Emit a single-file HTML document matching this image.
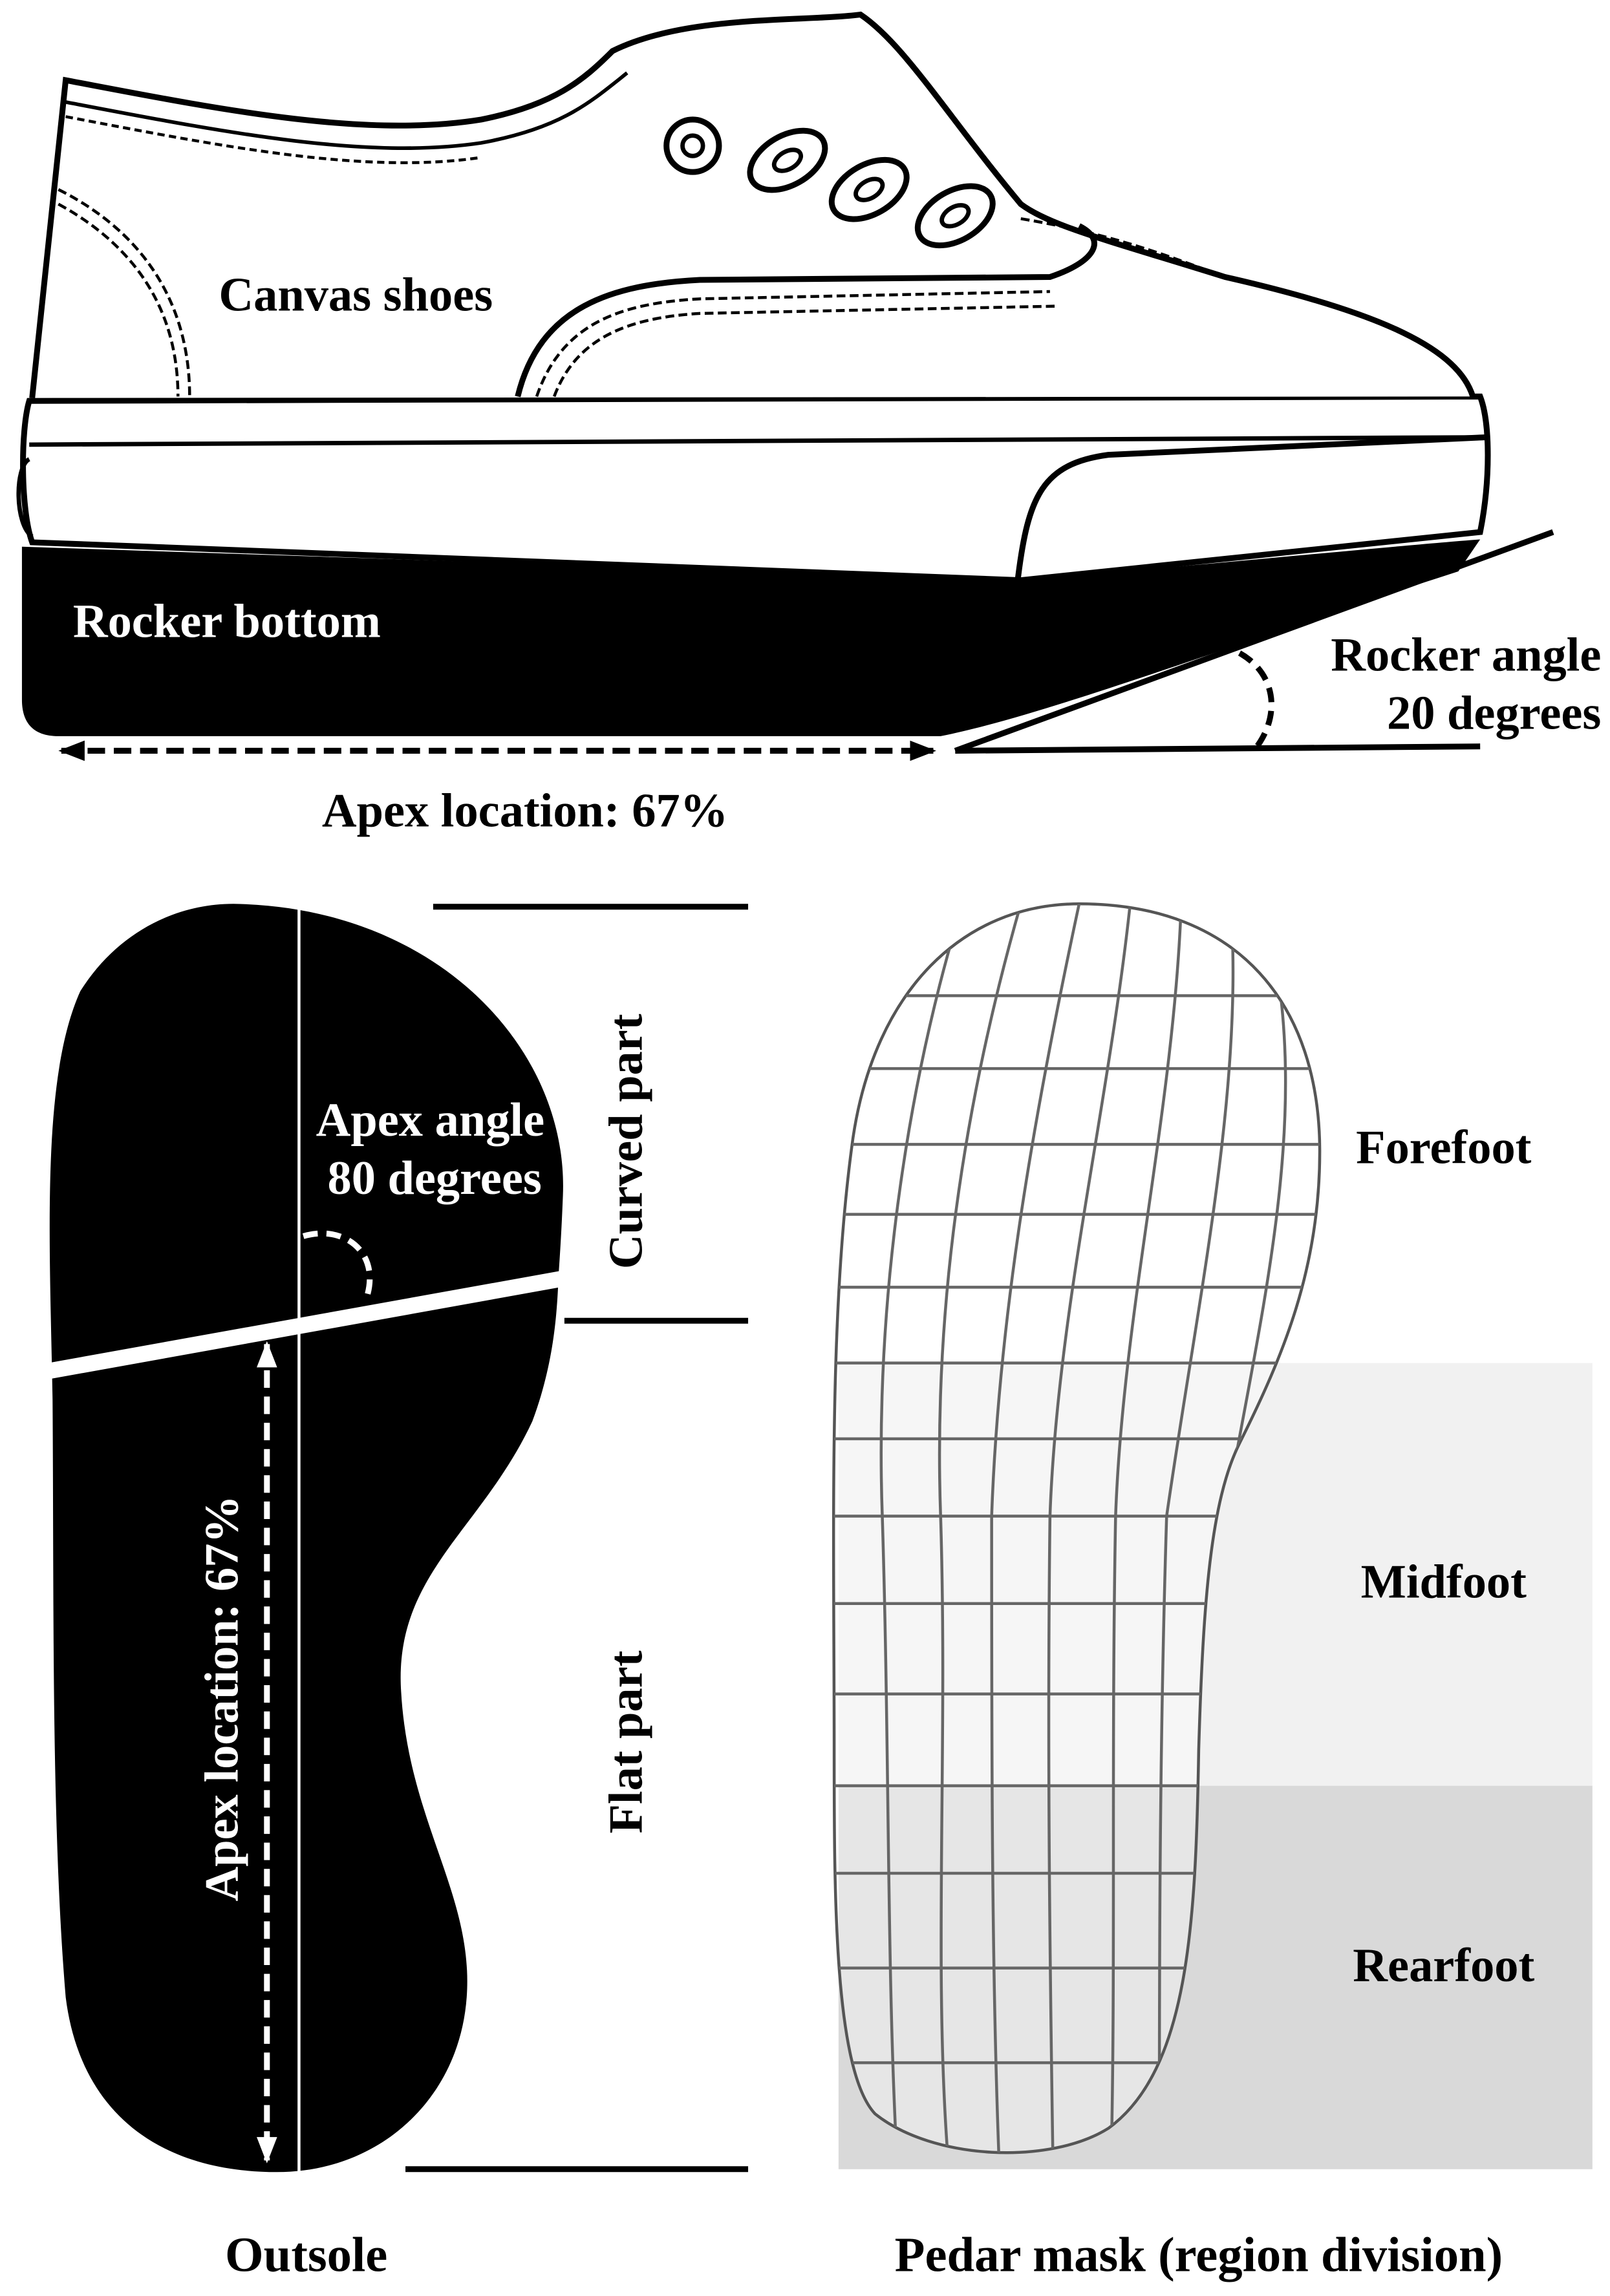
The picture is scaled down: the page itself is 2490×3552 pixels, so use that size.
<!DOCTYPE html>
<html><head><meta charset="utf-8">
<style>
html,body{margin:0;padding:0;background:#fff;}
svg{display:block;}
text{font-family:"Liberation Serif",serif;font-weight:bold;fill:#000;}
</style></head>
<body>
<svg width="2490" height="3552" viewBox="0 0 1104 1575" xmlns="http://www.w3.org/2000/svg">
<defs>
<clipPath id="pc"><path d="M740,620 C850,620 905,690 905,790 C905,870 880,930 850,990 C830,1030 825,1100 822,1200 C820,1320 815,1420 760,1460 C720,1485 640,1482 600,1450 C572,1420 572,1300 572,1200 C572,1050 568,900 585,780 C600,680 660,620 740,620 Z"/></clipPath>
<marker id="ah" markerWidth="18" markerHeight="14" refX="16" refY="7" orient="auto-start-reverse" markerUnits="userSpaceOnUse"><path d="M0,0 L18,7 L0,14 Z" fill="#000"/></marker>
<marker id="ahw" markerWidth="18" markerHeight="14" refX="16" refY="7" orient="auto-start-reverse" markerUnits="userSpaceOnUse"><path d="M0,0 L18,7 L0,14 Z" fill="#fff"/></marker>
</defs>

<path d="M15,375 L700,398 C800,390 950,375 1015,370 L1000,392 C850,440 720,490 645,505 L40,505 C22,505 15,495 15,480 Z" fill="#000"/>
<path d="M20,275 L1015,272 C1022,290 1022,330 1015,365 L700,398 L22,372 C14,350 14,295 20,275 Z" fill="#fff" stroke="#000" stroke-width="4"/>
<line x1="20" y1="305" x2="1010" y2="300" stroke="#000" stroke-width="3"/>
<path d="M20,315 C10,320 10,360 22,368" fill="none" stroke="#000" stroke-width="3"/>
<path d="M698,397 C705,340 715,318 760,312 L1018,300" fill="none" stroke="#000" stroke-width="4"/>
<path d="M22,273 L45,55 C150,75 250,95 330,82 C380,72 400,55 420,35 C470,10 550,15 590,10 C620,30 650,80 700,140 C720,155 760,165 840,190 C950,215 1000,240 1010,272" fill="#fff" stroke="#000" stroke-width="4"/>
<path d="M45,70 C150,90 250,110 330,98 C385,88 405,70 430,50" fill="none" stroke="#000" stroke-width="2.5"/>
<path d="M45,80 C150,100 250,120 330,108" fill="none" stroke="#000" stroke-width="2" stroke-dasharray="5,3"/>
<path d="M40,130 C100,160 130,210 130,272" fill="none" stroke="#000" stroke-width="2" stroke-dasharray="6,3"/>
<path d="M40,140 C95,170 122,215 122,272" fill="none" stroke="#000" stroke-width="2" stroke-dasharray="6,3"/>
<path d="M355,272 C370,210 420,195 480,192 L720,190 C750,180 760,165 740,155" fill="none" stroke="#000" stroke-width="4"/>
<path d="M368,272 C385,222 425,208 480,205 L720,200" fill="none" stroke="#000" stroke-width="2" stroke-dasharray="6,3"/>
<path d="M380,272 C395,232 430,218 480,215 L725,210" fill="none" stroke="#000" stroke-width="2" stroke-dasharray="6,3"/>
<path d="M700,150 C760,160 800,175 840,190" fill="none" stroke="#000" stroke-width="2" stroke-dasharray="6,3"/>
<circle cx="475" cy="100" r="18" fill="#fff" stroke="#000" stroke-width="4"/>
<circle cx="475" cy="100" r="7" fill="#fff" stroke="#000" stroke-width="3"/>
<ellipse cx="540" cy="110" rx="28" ry="17" transform="rotate(-30 540 110)" fill="#fff" stroke="#000" stroke-width="4"/>
<ellipse cx="540" cy="110" rx="10" ry="6" transform="rotate(-30 540 110)" fill="#fff" stroke="#000" stroke-width="3"/>
<ellipse cx="596" cy="130" rx="28" ry="17" transform="rotate(-30 596 130)" fill="#fff" stroke="#000" stroke-width="4"/>
<ellipse cx="596" cy="130" rx="10" ry="6" transform="rotate(-30 596 130)" fill="#fff" stroke="#000" stroke-width="3"/>
<ellipse cx="655" cy="148" rx="28" ry="17" transform="rotate(-30 655 148)" fill="#fff" stroke="#000" stroke-width="4"/>
<ellipse cx="655" cy="148" rx="10" ry="6" transform="rotate(-30 655 148)" fill="#fff" stroke="#000" stroke-width="3"/>

<text x="150" y="213" font-size="33">Canvas shoes</text>
<text x="50" y="437" font-size="33" style="fill:#fff">Rocker bottom</text>

<line x1="655" y1="515" x2="1065" y2="365" stroke="#000" stroke-width="4"/>
<line x1="655" y1="515" x2="1015" y2="512" stroke="#000" stroke-width="4"/>
<path d="M850,448 C875,462 878,490 862,512" fill="none" stroke="#000" stroke-width="4" stroke-dasharray="10,6"/>
<text x="1098" y="460" font-size="33" text-anchor="end">Rocker angle</text>
<text x="1098" y="500" font-size="33" text-anchor="end">20 degrees</text>

<line x1="42" y1="515" x2="640" y2="515" stroke="#000" stroke-width="4" stroke-dasharray="12,6" marker-start="url(#ah)" marker-end="url(#ah)"/>
<text x="360" y="567" font-size="33" text-anchor="middle">Apex location: 67%</text>

<path d="M160,620 C300,622 390,720 386,820 C385,845 384,860 383,875 C382,900 380,935 365,975 C330,1050 270,1080 275,1160 C280,1250 325,1300 320,1370 C315,1440 260,1490 190,1490 C110,1490 55,1450 45,1370 C35,1250 37,1100 36,960 C34,850 28,740 55,680 C80,640 120,620 160,620 Z" fill="#000"/>
<line x1="205" y1="620" x2="205" y2="1490" stroke="#fff" stroke-width="2"/>
<line x1="25" y1="942" x2="392" y2="876" stroke="#fff" stroke-width="11"/>
<path d="M208,848 C235,840 260,858 252,888" fill="none" stroke="#fff" stroke-width="4" stroke-dasharray="10,6"/>
<text x="295" y="779" font-size="33" text-anchor="middle" style="fill:#fff">Apex angle</text>
<text x="298" y="819" font-size="33" text-anchor="middle" style="fill:#fff">80 degrees</text>
<line x1="183" y1="922" x2="183" y2="1482" stroke="#fff" stroke-width="4" stroke-dasharray="12,6" marker-start="url(#ahw)" marker-end="url(#ahw)"/>
<text transform="translate(163,1165) rotate(-90)" font-size="33" text-anchor="middle" style="fill:#fff">Apex location: 67%</text>

<line x1="297" y1="622" x2="513" y2="622" stroke="#000" stroke-width="4"/>
<line x1="387" y1="906" x2="513" y2="906" stroke="#000" stroke-width="4"/>
<line x1="278" y1="1488" x2="513" y2="1488" stroke="#000" stroke-width="4"/>
<text transform="translate(440,783) rotate(-90)" font-size="33" text-anchor="middle">Curved part</text>
<text transform="translate(440,1195) rotate(-90)" font-size="33" text-anchor="middle">Flat part</text>

<rect x="575" y="935" width="517" height="290" fill="#f1f1f1"/>
<rect x="575" y="1225" width="517" height="263" fill="#d9d9d9"/>
<path d="M740,620 C850,620 905,690 905,790 C905,870 880,930 850,990 C830,1030 825,1100 822,1200 C820,1320 815,1420 760,1460 C720,1485 640,1482 600,1450 C572,1420 572,1300 572,1200 C572,1050 568,900 585,780 C600,680 660,620 740,620 Z" fill="#fff" fill-opacity="0.35" stroke="#555" stroke-width="2"/>
<g clip-path="url(#pc)" stroke="#666" stroke-width="2" fill="none">
<line x1="560" y1="683" x2="920" y2="683"/>
<line x1="560" y1="733" x2="920" y2="733"/>
<line x1="560" y1="785" x2="920" y2="785"/>
<line x1="560" y1="833" x2="920" y2="833"/>
<line x1="560" y1="883" x2="920" y2="883"/>
<line x1="560" y1="935" x2="920" y2="935"/>
<line x1="560" y1="987" x2="920" y2="987"/>
<line x1="560" y1="1040" x2="920" y2="1040"/>
<line x1="560" y1="1100" x2="920" y2="1100"/>
<line x1="560" y1="1162" x2="920" y2="1162"/>
<line x1="560" y1="1225" x2="920" y2="1225"/>
<line x1="560" y1="1285" x2="920" y2="1285"/>
<line x1="560" y1="1350" x2="920" y2="1350"/>
<line x1="560" y1="1415" x2="920" y2="1415"/>
<path d="M660,620 C620,750 600,900 605,1040 C610,1200 608,1350 615,1480"/>
<path d="M700,620 C660,760 640,900 645,1040 C650,1200 640,1350 650,1480"/>
<path d="M740,620 C710,760 685,900 680,1040 C680,1200 680,1350 685,1480"/>
<path d="M775,620 C760,760 725,900 720,1040 C718,1200 720,1350 722,1480"/>
<path d="M810,620 C805,760 770,900 765,1040 C762,1200 765,1350 762,1480"/>
<path d="M845,640 C850,760 820,900 800,1040 C795,1200 795,1350 795,1480"/>
<path d="M875,660 C895,780 865,900 840,1040"/>
</g>
<text x="990" y="798" font-size="33" text-anchor="middle">Forefoot</text>
<text x="990" y="1096" font-size="33" text-anchor="middle">Midfoot</text>
<text x="990" y="1359" font-size="33" text-anchor="middle">Rearfoot</text>

<text x="210" y="1558" font-size="34" text-anchor="middle">Outsole</text>
<text x="822" y="1558" font-size="34" text-anchor="middle">Pedar mask (region division)</text>
</svg>
</body></html>
